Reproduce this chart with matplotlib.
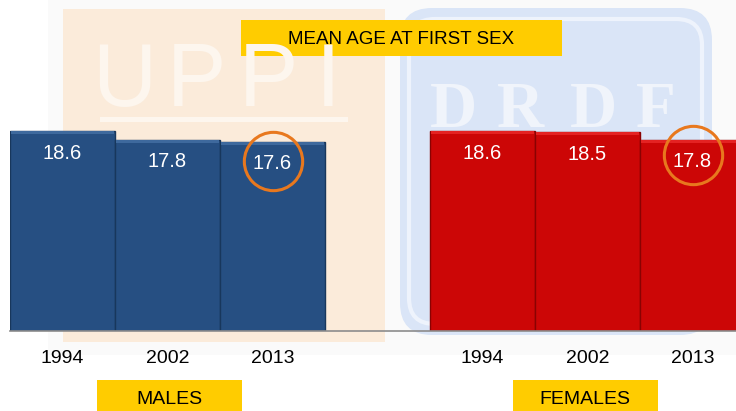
import matplotlib.pyplot as plt
from matplotlib.patches import Rectangle, FancyBboxPatch

# data
years = ['1994', '2002', '2013']
males = [18.6, 17.8, 17.6]
females = [18.6, 18.5, 17.8]
group_names = ['MALES', 'FEMALES']
title = 'MEAN AGE AT FIRST SEX'

plt.rcParams['font.family'] = ['Liberation Sans', 'DejaVu Sans']

W, H = 736, 411
fig = plt.figure(figsize=(W / 100, H / 100), dpi=100)
fig.patch.set_facecolor('white')

# background layer in pixel coordinates (faded logos, yellow boxes)
bg = fig.add_axes([0, 0, 1, 1], zorder=0)
bg.set_xlim(0, W)
bg.set_ylim(H, 0)
bg.axis('off')
bg.add_patch(Rectangle((48, 0), W - 48, 355, color='#fafafa', lw=0))
bg.add_patch(Rectangle((63, 9), 322, 333, color='#fbebda', lw=0))
for cx, ch in zip([124, 196, 268, 328], 'UPPI'):
    bg.text(cx, 106, ch, fontsize=64, color='#fdf6ee', ha='center', va='baseline')
bg.add_patch(Rectangle((100, 117), 248, 5, color='#fdf6ee', lw=0))
bg.add_patch(FancyBboxPatch((400, 8), 312, 327, boxstyle='round,pad=0,rounding_size=32',
                            fc='#dae5f7', ec='none'))
bg.add_patch(FancyBboxPatch((409, 19), 293, 305, boxstyle='round,pad=0,rounding_size=26',
                            fc='none', ec='#eef3fc', lw=3))
for cx, ch in zip([453, 521, 593, 656], 'DRDF'):
    bg.text(cx, 127, ch, fontsize=47, fontweight='bold', color='#f0f4fb',
            ha='center', va='baseline', family=['Liberation Serif', 'DejaVu Serif'])

yellow = '#ffcc00'
bg.add_patch(Rectangle((241, 20), 321, 36, color=yellow, lw=0))
bg.text(401, 39, title, fontsize=13.5, ha='center', va='center', color='black')
box_x = [97, 513]
for bx, name in zip(box_x, group_names):
    bg.add_patch(Rectangle((bx, 380), 145, 35, color=yellow, lw=0))
    bg.text(bx + 72, 399, name, fontsize=14, ha='center', va='center', color='black')

# main chart
ax = fig.add_axes([10 / W, 80 / H, 726 / W, 231 / H], zorder=1)
ax.patch.set_alpha(0)
xm = [0, 1, 2]
xf = [4, 5, 6]
ax.bar(xm, males, width=1, color='#264f82', edgecolor='#18375c', linewidth=1)
ax.bar(xf, females, width=1, color='#cc0606', edgecolor='#8a0202', linewidth=1)
# light top edge (bevel look)
ax.bar(xm, [0.3] * 3, bottom=[v - 0.3 for v in males], width=0.98, color='#3e699d', lw=0)
ax.bar(xf, [0.3] * 3, bottom=[v - 0.3 for v in females], width=0.98, color='#e42222', lw=0)

for xs, vals in [(xm, males), (xf, females)]:
    for x, v in zip(xs, vals):
        ax.annotate(f'{v:.1f}', (x, v), xytext=(0, -22), textcoords='offset pixels',
                    ha='center', va='center', color='white', fontsize=14.5)

# orange circles on the 2013 values
ax.plot([2], [males[2] - 19 / 10.75], 'o', ms=42, mfc='none', mec='#e8781e', mew=2.2)
ax.plot([6], [females[2] - 15 / 10.75], 'o', ms=42, mfc='none', mec='#e8781e', mew=2.2)

ax.set_xlim(-0.5, 6.414)
ax.set_ylim(0, 231 / 10.75)
ax.set_xticks(xm + xf)
ax.set_xticklabels(years + years, fontsize=14)
ax.tick_params(axis='x', length=0, pad=14)
ax.set_yticks([])
for s in ['top', 'right', 'left']:
    ax.spines[s].set_visible(False)
ax.spines['bottom'].set_color('#8c8c8c')
ax.spines['bottom'].set_linewidth(1.2)

fig.savefig('out.png', dpi=100)
